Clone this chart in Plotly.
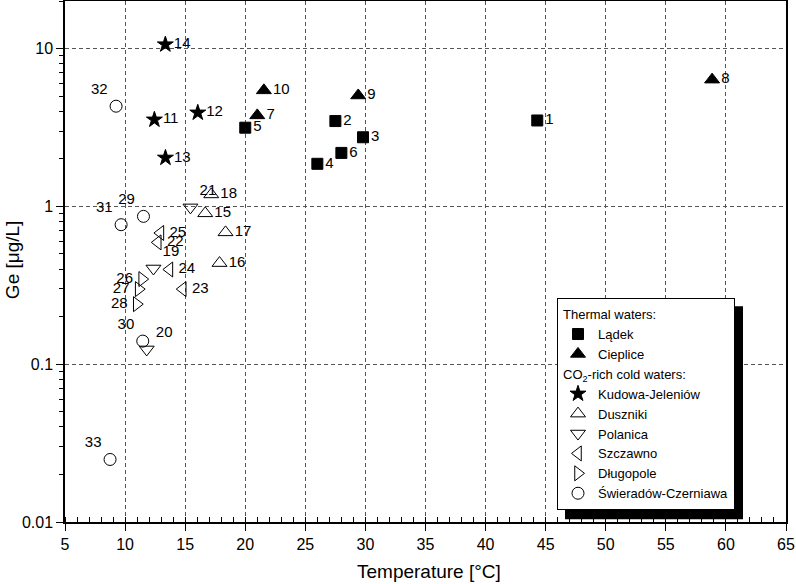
import plotly.graph_objects as go

# ---- data ----
lad_id = ["1", "2", "3", "4", "5", "6"]
lad_t = [44.3, 27.5, 29.8, 26.0, 20.0, 28.0]
lad_ge = [3.50, 3.47, 2.74, 1.86, 3.15, 2.18]

cie_id = ["7", "8", "9", "10"]
cie_t = [21.0, 58.85, 29.4, 21.55]
cie_ge = [3.77, 6.35, 5.04, 5.43]

kud_id = ["11", "12", "13", "14"]
kud_t = [12.44, 16.05, 13.36, 13.35]
kud_ge = [3.54, 3.92, 2.03, 10.6]

dus_id = ["15", "16", "17", "18"]
dus_t = [16.67, 17.86, 18.36, 17.17]
dus_ge = [0.903, 0.437, 0.684, 1.19]

pol_id = ["19", "20", "21"]
pol_t = [12.36, 11.8, 15.44]
pol_ge = [0.404, 0.124, 0.985]

szc_id = ["22", "23", "24", "25"]
szc_t = [12.72, 14.8, 13.69, 12.94]
szc_ge = [0.591, 0.299, 0.398, 0.678]

dlu_id = ["26", "27", "28"]
dlu_t = [11.42, 11.13, 10.97]
dlu_ge = [0.346, 0.299, 0.240]

swi_id = ["29", "30", "31", "32", "33"]
swi_t = [11.53, 11.47, 9.67, 9.25, 8.75]
swi_ge = [0.864, 0.140, 0.765, 4.31, 0.0249]

x_ticks = [5, 10, 15, 20, 25, 30, 35, 40, 45, 50, 55, 60, 65]
y_ticks = [0.01, 0.1, 1, 10]
y_ticktext = ["0.01", "0.1", "1", "10"]

# ---- styles ----
FONT = "Arial, Liberation Sans, sans-serif"
label_pos = {
    "19": "top right", "20": "top right", "21": "top right",
    "26": "middle left", "27": "middle left", "28": "middle left",
    "29": "top left", "30": "top left", "31": "top left", "32": "top left", "33": "top left",
}

series = [
    ("Lądek", "thermal", "Thermal waters:", lad_id, lad_t, lad_ge, "square", 11),
    ("Cieplice", "thermal", None, cie_id, cie_t, cie_ge, "triangle-up", 13),
    ("Kudowa-Jeleniów", "cold", "CO<sub>2</sub>-rich cold waters:", kud_id, kud_t, kud_ge, "star", 12),
    ("Duszniki", "cold", None, dus_id, dus_t, dus_ge, "triangle-up-open", 13),
    ("Polanica", "cold", None, pol_id, pol_t, pol_ge, "triangle-down-open", 13),
    ("Szczawno", "cold", None, szc_id, szc_t, szc_ge, "triangle-left-open", 13),
    ("Długopole", "cold", None, dlu_id, dlu_t, dlu_ge, "triangle-right-open", 13),
    ("Świeradów-Czerniawa", "cold", None, swi_id, swi_t, swi_ge, "circle-open", 12),
]

LEG_FONT = 13

fig = go.Figure()
for name, grp, gtitle, ids, xs, ys, sym, size in series:
    kw = {}
    if gtitle:
        kw["legendgrouptitle"] = dict(text=gtitle, font=dict(family=FONT, size=LEG_FONT, color="black"))
    fig.add_trace(go.Scatter(
        x=xs, y=ys, mode="markers+text", name=name, legendgroup=grp,
        text=ids, textposition=[label_pos.get(i, "middle right") for i in ids],
        textfont=dict(family=FONT, size=15, color="black"),
        marker=dict(symbol=sym, size=size, color="black",
                    line=dict(color="black", width=1)),
        **kw,
    ))

# pixel -> paper helpers (plot area: x 65..786, y 1..521.7)
L, R, T, B = 65, 786, 1, 521.7


def px_x(p):
    return (p - L) / (R - L)


def px_y(p):
    return 1 - (p - T) / (B - T)


# legend shadow
LEG_X, LEG_Y, LEG_W, LEG_H, SH = 557, 298, 178, 213, 8
fig.add_shape(type="rect", xref="paper", yref="paper",
              x0=px_x(LEG_X + SH), x1=px_x(LEG_X + LEG_W + SH),
              y0=px_y(LEG_Y + LEG_H + SH), y1=px_y(LEG_Y + SH),
              fillcolor="black", line=dict(width=0), layer="above")

axis_common = dict(
    showline=True, linecolor="black", linewidth=1.5, mirror=True,
    showgrid=True, gridcolor="#555555", gridwidth=1, griddash="4px,3px",
    zeroline=False, ticks="outside", ticklen=7, tickwidth=1.2, tickcolor="black",
    tickfont=dict(family=FONT, size=16, color="black"), automargin=False,
)

fig.update_xaxes(
    range=[5, 65], tickmode="array", tickvals=x_ticks,
    minor=dict(dtick=1, ticks="inside", ticklen=5, tickcolor="black", tickwidth=1.2, showgrid=False),
    **axis_common,
)
fig.update_yaxes(
    type="log", range=[-2, 1.30103], tickmode="array", tickvals=y_ticks, ticktext=y_ticktext,
    minor=dict(tickmode="array",
               tickvals=[a * b for b in (0.01, 0.1, 1, 10) for a in range(2, 10)],
               ticks="outside", ticklen=4, tickcolor="black", tickwidth=1.2, showgrid=False),
    **axis_common,
)

fig.add_annotation(text="Temperature [°C]", xref="paper", yref="paper",
                   x=px_x(429), y=px_y(571), xanchor="center", yanchor="middle",
                   showarrow=False, font=dict(family=FONT, size=19, color="black"))
fig.add_annotation(text="Ge [μg/L]", xref="paper", yref="paper",
                   x=px_x(12), y=px_y(260), xanchor="center", yanchor="middle",
                   textangle=-90, showarrow=False, font=dict(family=FONT, size=19, color="black"))

fig.update_layout(
    width=796, height=584,
    margin=dict(l=L, r=796 - R, t=T, b=584 - B, autoexpand=False),
    plot_bgcolor="white", paper_bgcolor="white",
    font=dict(family=FONT, size=14, color="black"),
    showlegend=True,
    legend=dict(x=px_x(LEG_X), y=px_y(LEG_Y), xanchor="left", yanchor="top",
                bgcolor="white", bordercolor="black", borderwidth=1,
                tracegroupgap=0, font=dict(family=FONT, size=LEG_FONT, color="black"),
                traceorder="grouped"),
)

fig.write_html(
    "out.html",
    config={"displayModeBar": False},
    post_script="document.body.style.margin='0';document.body.style.padding='0';",
)
